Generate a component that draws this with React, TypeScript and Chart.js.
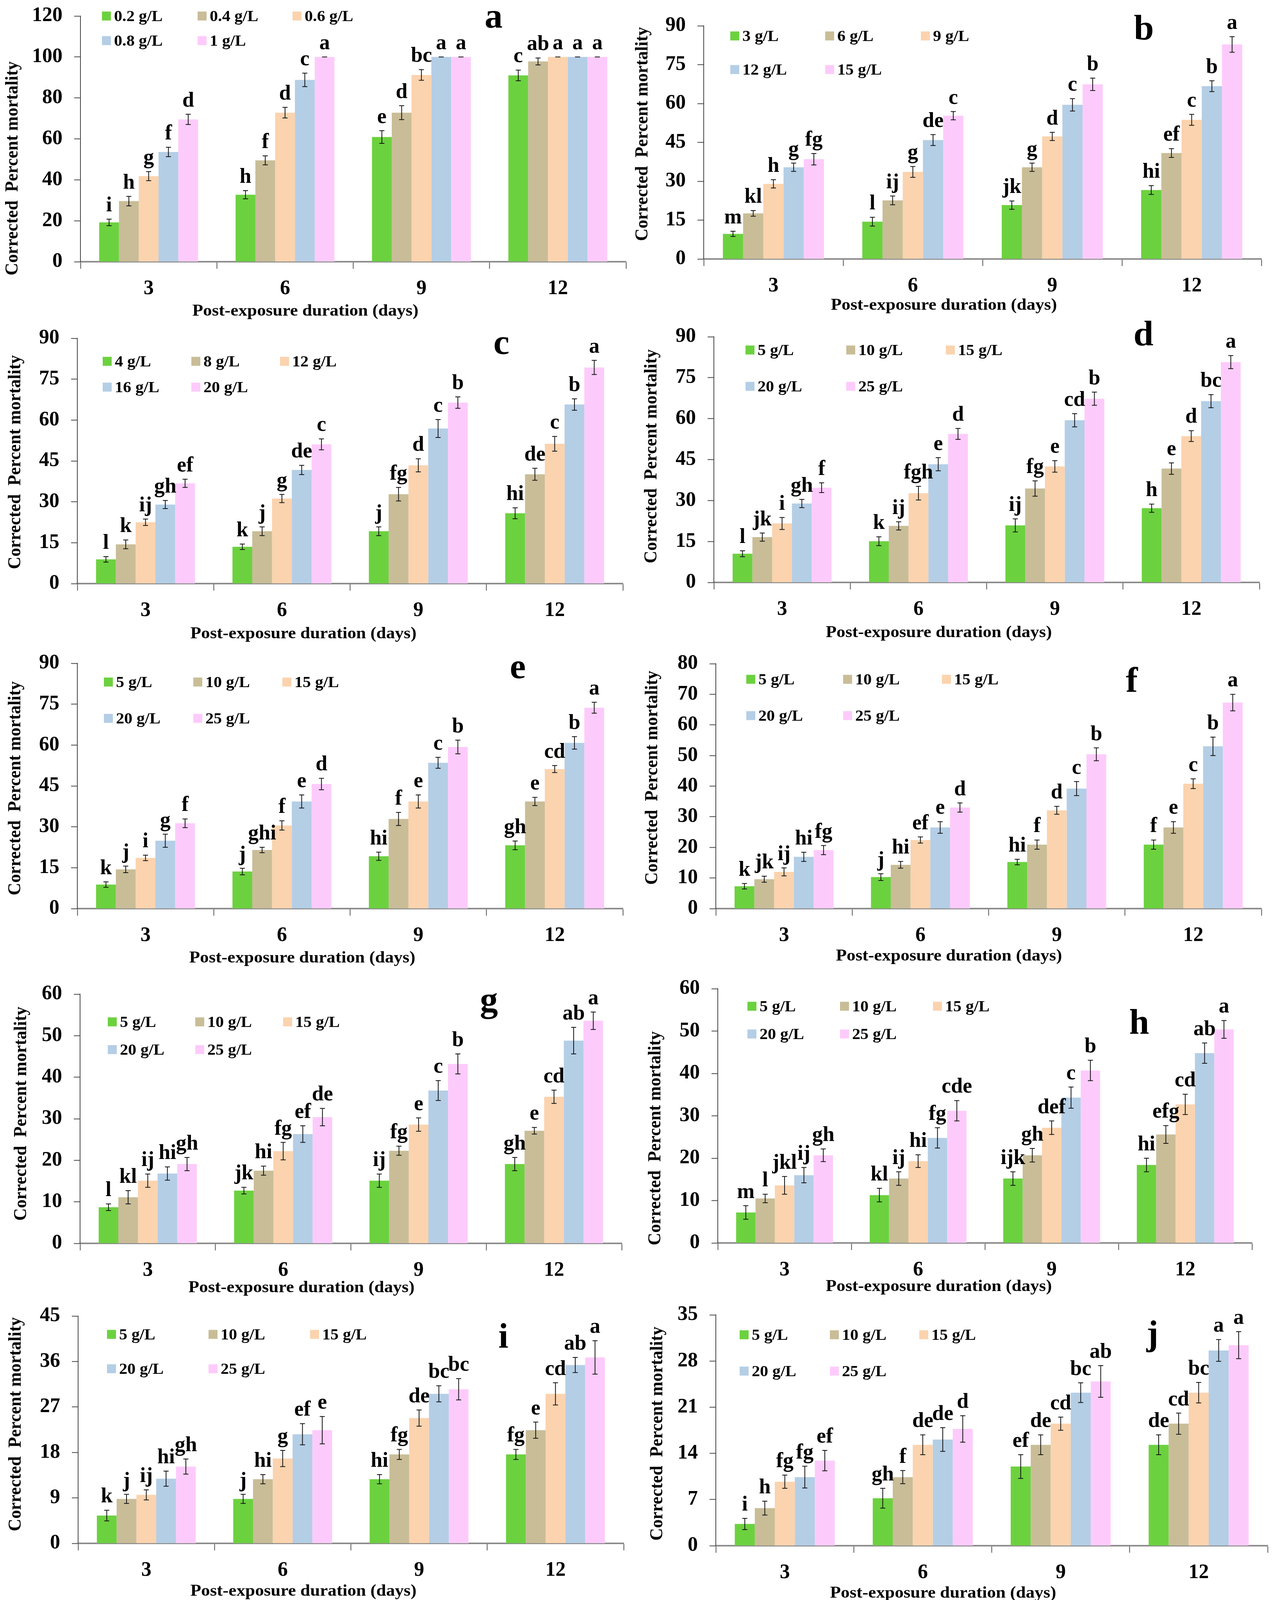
import React, { useEffect, useRef } from "react";
import { Chart, registerables } from "chart.js";
Chart.register(...registerables);

if (typeof document !== "undefined") {
  document.body.style.margin = "0";
}

const FONT = '"Liberation Serif", "Times New Roman", serif';

// ---------- data ----------
const days = ["3", "6", "9", "12"];
const barColors = ["#6CD13F", "#C9BD98", "#FBD3AE", "#B4CEE6", "#FDCBFB"];

const concA = ["0.2 g/L", "0.4 g/L", "0.6 g/L", "0.8 g/L", "1 g/L"];
const concB = ["3 g/L", "6 g/L", "9 g/L", "12 g/L", "15 g/L"];
const concC = ["4 g/L", "8 g/L", "12 g/L", "16 g/L", "20 g/L"];
const concStd = ["5 g/L", "10 g/L", "15 g/L", "20 g/L", "25 g/L"];

// series = concentration, values = days 3, 6, 9, 12
const meanA = [[19.2, 32.7, 60.9, 91.0], [29.6, 49.5, 72.8, 97.8], [41.8, 72.8, 91.2, 100], [53.6, 88.8, 100, 100], [69.5, 100, 100, 100]];
const errA = [[1.6, 2.0, 3.1, 2.6], [2.3, 2.2, 3.4, 1.7], [2.2, 2.6, 2.6, 0], [2.3, 3.3, 0, 0], [2.5, 0, 0, 0]];
const sigA = [["i", "h", "e", "c"], ["h", "f", "d", "ab"], ["g", "d", "bc", "a"], ["f", "c", "a", "a"], ["d", "a", "a", "a"]];

const meanB = [[9.7, 14.4, 20.8, 26.6], [17.6, 22.6, 35.4, 40.9], [29.0, 33.6, 47.3, 53.7], [35.4, 45.9, 59.5, 66.7], [38.5, 55.3, 67.4, 82.8]];
const errB = [[1.0, 1.7, 1.6, 1.7], [1.1, 1.7, 1.6, 1.7], [1.6, 2.1, 1.6, 2.1], [1.6, 2.1, 2.4, 2.1], [2.2, 1.6, 2.4, 3.0]];
const sigB = [["m", "l", "jk", "hi"], ["kl", "ij", "g", "ef"], ["h", "g", "d", "c"], ["g", "de", "c", "b"], ["fg", "c", "b", "a"]];

const meanC = [[8.9, 13.5, 19.2, 25.8], [14.4, 19.2, 32.8, 40.1], [22.5, 31.2, 43.4, 51.3], [29.0, 41.7, 56.9, 65.7], [36.8, 51.1, 66.4, 79.3]];
const errC = [[1.0, 1.0, 1.6, 2.0], [1.6, 1.6, 2.5, 2.2], [1.2, 1.5, 2.4, 2.7], [1.5, 1.7, 3.3, 2.1], [1.5, 2.0, 2.1, 2.6]];
const sigC = [["l", "k", "j", "hi"], ["k", "j", "fg", "de"], ["ij", "g", "d", "c"], ["gh", "de", "c", "b"], ["ef", "c", "b", "a"]];

const meanD = [[10.5, 15.1, 20.9, 27.2], [16.6, 20.7, 34.4, 41.7], [21.6, 32.7, 42.5, 53.6], [28.9, 43.3, 59.4, 66.4], [34.7, 54.4, 67.3, 80.7]];
const errD = [[1.1, 1.6, 2.4, 1.5], [1.5, 1.5, 2.8, 2.1], [2.2, 2.5, 2.1, 2.0], [1.5, 2.4, 2.4, 2.4], [1.8, 2.0, 2.4, 2.4]];
const sigD = [["l", "k", "ij", "h"], ["jk", "ij", "fg", "e"], ["i", "fgh", "e", "d"], ["gh", "e", "cd", "bc"], ["f", "d", "b", "a"]];

const meanE = [[8.8, 13.6, 19.2, 23.2], [14.4, 21.5, 32.9, 39.3], [18.6, 30.5, 39.3, 51.2], [24.9, 39.3, 53.5, 60.8], [31.3, 45.7, 59.3, 73.7]];
const errE = [[1.0, 1.2, 1.5, 1.6], [1.2, 1.0, 2.4, 1.5], [1.0, 1.7, 2.4, 1.3], [2.4, 2.4, 2.0, 2.3], [1.6, 2.1, 2.5, 2.0]];
const sigE = [["k", "j", "hi", "gh"], ["j", "ghi", "f", "e"], ["i", "f", "e", "cd"], ["g", "e", "c", "b"], ["f", "d", "b", "a"]];

const meanF = [[7.3, 10.3, 15.2, 20.9], [9.6, 14.3, 20.9, 26.5], [12.0, 22.4, 32.1, 40.8], [16.9, 26.5, 39.2, 53.0], [19.1, 33.0, 50.4, 67.3]];
const errF = [[0.9, 1.1, 0.9, 1.5], [1.0, 1.1, 1.5, 1.9], [1.3, 1.0, 1.3, 1.6], [1.5, 1.9, 2.3, 3.0], [1.5, 1.5, 2.1, 2.7]];
const sigF = [["k", "j", "hi", "f"], ["jk", "hi", "f", "e"], ["ij", "ef", "d", "c"], ["hi", "e", "c", "b"], ["fg", "d", "b", "a"]];

const meanG = [[8.7, 12.7, 15.1, 19.1], [11.1, 17.5, 22.3, 27.1], [15.1, 22.2, 28.6, 35.3], [16.8, 26.3, 36.8, 48.8], [19.1, 30.4, 43.2, 53.6]];
const errG = [[0.8, 0.8, 1.6, 1.6], [1.6, 1.1, 1.1, 0.8], [1.6, 2.1, 1.6, 1.6], [1.6, 2.0, 2.4, 3.2], [1.6, 2.1, 2.4, 2.1]];
const sigG = [["l", "jk", "ij", "gh"], ["kl", "hi", "fg", "e"], ["ij", "fg", "e", "cd"], ["hi", "ef", "c", "ab"], ["gh", "de", "b", "a"]];

const meanH = [[7.2, 11.3, 15.2, 18.4], [10.5, 15.2, 20.7, 25.6], [13.6, 19.3, 27.2, 32.7], [16.0, 24.8, 34.3, 44.8], [20.7, 31.2, 40.7, 50.4]];
const errH = [[1.6, 1.6, 1.6, 1.6], [1.0, 1.6, 1.6, 2.1], [2.1, 1.5, 1.6, 2.4], [1.8, 2.4, 2.5, 2.4], [1.5, 2.4, 2.4, 2.1]];
const sigH = [["m", "kl", "ijk", "hi"], ["l", "ij", "gh", "efg"], ["jkl", "hi", "def", "cd"], ["ij", "fg", "c", "ab"], ["gh", "cde", "b", "a"]];

const meanI = [[5.5, 8.8, 12.7, 17.6], [8.8, 12.7, 17.6, 22.4], [9.6, 16.8, 24.8, 29.6], [12.8, 21.6, 29.6, 35.3], [15.2, 22.4, 30.5, 36.8]];
const errI = [[1.05, 0.9, 0.9, 1.0], [0.9, 0.9, 1.0, 1.6], [1.0, 1.6, 1.6, 2.2], [1.5, 2.1, 1.6, 1.5], [1.5, 2.7, 2.1, 3.3]];
const sigI = [["k", "j", "hi", "fg"], ["j", "hi", "fg", "e"], ["ij", "g", "de", "cd"], ["hi", "ef", "bc", "ab"], ["gh", "e", "bc", "a"]];

const meanJ = [[3.3, 7.2, 12.0, 15.3], [5.7, 10.4, 15.3, 18.5], [9.7, 15.3, 18.5, 23.2], [10.4, 16.1, 23.2, 29.6], [12.9, 17.7, 24.9, 30.4]];
const errJ = [[0.85, 1.5, 1.8, 1.5], [1.05, 1.0, 1.5, 1.6], [1.0, 1.5, 1.0, 1.55], [1.65, 1.8, 1.5, 1.65], [1.55, 2.0, 2.4, 2.05]];
const sigJ = [["i", "gh", "ef", "de"], ["h", "f", "de", "cd"], ["fg", "de", "cd", "bc"], ["fg", "de", "bc", "a"], ["ef", "d", "ab", "a"]];

const meanK = [[2.5, 7.3, 10.4, 12.0], [4.8, 10.4, 15.3, 17.7], [7.3, 10.4, 16.1, 20.9], [10.4, 15.3, 18.5, 23.3], [12.8, 16.1, 19.2, 24.9]];
const errK = [[0.95, 1.5, 1.0, 1.35], [0.8, 1.0, 1.55, 2.0], [0.85, 1.0, 1.8, 2.3], [1.6, 1.55, 1.0, 1.5], [1.5, 1.8, 1.5, 1.9]];
const sigK = [["i", "gh", "fg", "ef"], ["h", "fg", "de", "cd"], ["gh", "fg", "cde", "abc"], ["fg", "de", "bcd", "ab"], ["ef", "cde", "bcd", "a"]];

const yMaxes = { a: 120, b: 90, c: 90, d: 90, e: 90, f: 80, g: 60, h: 60, i: 45, j: 35, k: 30 };
const ySteps = { a: 20, b: 15, c: 15, d: 15, e: 15, f: 10, g: 10, h: 10, i: 9, j: 7, k: 5 };

const yTitleText = "Corrected  Percent mortality";
const xTitleText = "Post-exposure duration (days)";

// ---------- layout (page pixel coordinates) ----------
type Layout = {
  cols: number[]; area: number[]; legendX: number[]; legendY: number[];
  letter: number[]; yTitle: number[]; xTitle: number[];
};
const LEFT = [0, 1640];
const RIGHT = [1610, 1660];
const layouts: Record<string, Layout> = {
  a: { cols: LEFT, area: [206, 41, 1603, 670], legendX: [261, 506, 749], legendY: [41, 104], letter: [1264, 71], yTitle: [33, 431], xTitle: [782, 797] },
  b: { cols: RIGHT, area: [1802, 66, 3230, 663], legendX: [1870, 2113, 2358], legendY: [92, 178], letter: [2929, 101], yTitle: [1646, 343], xTitle: [2417, 782] },
  c: { cols: LEFT, area: [198, 866, 1595, 1494], legendX: [263, 490, 717], legendY: [925, 991], letter: [1284, 906], yTitle: [40, 1183], xTitle: [777, 1623] },
  d: { cols: RIGHT, area: [1828, 862, 3225, 1491], legendX: [1909, 2167, 2422], legendY: [896, 989], letter: [2928, 884], yTitle: [1669, 1168], xTitle: [2404, 1620] },
  e: { cols: LEFT, area: [198, 1698, 1595, 2326], legendX: [266, 495, 723], legendY: [1746, 1839], letter: [1326, 1736], yTitle: [40, 2018], xTitle: [774, 2453] },
  f: { cols: RIGHT, area: [1833, 1699, 3230, 2326], legendX: [1911, 2159, 2412], legendY: [1739, 1832], letter: [2898, 1771], yTitle: [1671, 1991], xTitle: [2430, 2448] },
  g: { cols: LEFT, area: [205, 2545, 1592, 3183], legendX: [276, 500, 725], legendY: [2616, 2687], letter: [1252, 2590], yTitle: [55, 2851], xTitle: [772, 3297] },
  h: { cols: RIGHT, area: [1838, 2531, 3206, 3182], legendX: [1914, 2151, 2389], legendY: [2576, 2647], letter: [2917, 2646], yTitle: [1679, 2914], xTitle: [2404, 3294] },
  i: { cols: LEFT, area: [200, 3369, 1597, 3951], legendX: [274, 534, 794], legendY: [3416, 3504], letter: [1289, 3450], yTitle: [41, 3646], xTitle: [777, 4074] },
  j: { cols: RIGHT, area: [1833, 3366, 3246, 3957], legendX: [1894, 2125, 2354], legendY: [3417, 3510], letter: [2951, 3443], yTitle: [1684, 3670], xTitle: [2415, 4079] },
  k: { cols: [790, 1680], area: [1059, 4171, 2437, 4761], legendX: [1132, 1384, 1637], legendY: [4220, 4313], letter: [2168, 4245], yTitle: [912, 4473], xTitle: [1642, 4886] },
};

function canvasBox(L: Layout) {
  const x = L.cols[0];
  const w = L.cols[1];
  const y = L.area[1] - 100;
  const h = L.xTitle[1] + 45 - y;
  return [x, y, w, h];
}

const panels = [
  { id: "a", conc: concA, mean: meanA, err: errA, sig: sigA },
  { id: "b", conc: concB, mean: meanB, err: errB, sig: sigB },
  { id: "c", conc: concC, mean: meanC, err: errC, sig: sigC },
  { id: "d", conc: concStd, mean: meanD, err: errD, sig: sigD },
  { id: "e", conc: concStd, mean: meanE, err: errE, sig: sigE },
  { id: "f", conc: concStd, mean: meanF, err: errF, sig: sigF },
  { id: "g", conc: concStd, mean: meanG, err: errG, sig: sigG },
  { id: "h", conc: concStd, mean: meanH, err: errH, sig: sigH },
  { id: "i", conc: concStd, mean: meanI, err: errI, sig: sigI },
  { id: "j", conc: concStd, mean: meanJ, err: errJ, sig: sigJ },
  { id: "k", conc: concStd, mean: meanK, err: errK, sig: sigK },
];

// ---------- drawing helpers ----------
function drawText(ctx: CanvasRenderingContext2D, text: string, x: number, y: number, size: number, sx: number, align: CanvasTextAlign, baseline: CanvasTextBaseline) {
  ctx.save();
  ctx.font = `bold ${size}px ${FONT}`;
  ctx.fillStyle = "#000";
  ctx.textAlign = align;
  ctx.textBaseline = baseline;
  ctx.translate(x, y);
  ctx.scale(sx, 1);
  ctx.fillText(text, 0, 0);
  ctx.restore();
}

function fitScale(ctx: CanvasRenderingContext2D, text: string, size: number, target: number) {
  ctx.save();
  ctx.font = `bold ${size}px ${FONT}`;
  const w = ctx.measureText(text).width;
  ctx.restore();
  return w > 0 ? target / w : 1;
}

function makeDeco(p: any, L: Layout, box: number[]) {
  const ox = box[0];
  const oy = box[1];
  return {
    id: "deco" + p.id,
    afterDatasetsDraw(chart: any) {
      const ctx: CanvasRenderingContext2D = chart.ctx;
      const ys = chart.scales.y;
      p.mean.forEach((series: number[], i: number) => {
        const meta = chart.getDatasetMeta(i);
        series.forEach((v: number, j: number) => {
          const el = meta.data[j];
          if (!el) return;
          const e = p.err[i][j];
          const yt = ys.getPixelForValue(v + e);
          const yb = ys.getPixelForValue(v - e);
          ctx.save();
          ctx.strokeStyle = "#111";
          ctx.lineWidth = 2;
          ctx.beginPath();
          ctx.moveTo(el.x, yt); ctx.lineTo(el.x, yb);
          ctx.moveTo(el.x - 6.5, yt); ctx.lineTo(el.x + 6.5, yt);
          ctx.moveTo(el.x - 6.5, yb); ctx.lineTo(el.x + 6.5, yb);
          ctx.stroke();
          ctx.restore();
          drawText(ctx, p.sig[i][j], el.x, yt - 20, 54, 1.0, "center", "alphabetic");
        });
      });
    },
    afterDraw(chart: any) {
      const ctx: CanvasRenderingContext2D = chart.ctx;
      // legend
      p.conc.forEach((label: string, i: number) => {
        const col = i < 3 ? i : i - 3;
        const row = i < 3 ? 0 : 1;
        const x = L.legendX[col] - ox;
        const y = L.legendY[row] - oy;
        ctx.save();
        ctx.fillStyle = barColors[i];
        ctx.fillRect(x, y - 11.5, 23, 23);
        ctx.restore();
        drawText(ctx, label, x + 31, y + 2, 41, 1.03, "left", "middle");
      });
      // panel letter
      drawText(ctx, p.id, L.letter[0] - ox, L.letter[1] - oy, 92, 1.0, "center", "alphabetic");
      // x title
      const sxX = fitScale(ctx, xTitleText, 43, 579);
      drawText(ctx, xTitleText, L.xTitle[0] - ox, L.xTitle[1] - oy, 43, sxX, "center", "middle");
      // y title (rotated)
      const sxY = fitScale(ctx, yTitleText, 46, 548);
      ctx.save();
      ctx.translate(L.yTitle[0] - ox, L.yTitle[1] - oy);
      ctx.rotate(-Math.PI / 2);
      ctx.scale(sxY, 1);
      ctx.font = `bold 46px ${FONT}`;
      ctx.fillStyle = "#000";
      ctx.textAlign = "center";
      ctx.textBaseline = "middle";
      ctx.fillText(yTitleText, 0, 0);
      ctx.restore();
    },
  };
}

function Panel({ p }: { p: any }) {
  const ref = useRef<HTMLCanvasElement | null>(null);
  const L = layouts[p.id];
  const box = canvasBox(L);
  useEffect(() => {
    if (!ref.current) return;
    const [cx, cy, cw, ch] = box;
    const [l, t, r, b] = L.area;
    const yWidth = l - cx;
    const xHeight = cy + ch - b;
    const chart = new Chart(ref.current, {
      type: "bar",
      data: {
        labels: days,
        datasets: p.conc.map((label: string, i: number) => ({
          label,
          data: p.mean[i],
          backgroundColor: barColors[i],
          borderWidth: 0,
          categoryPercentage: 0.725,
          barPercentage: 1.0,
        })),
      },
      options: {
        animation: false,
        responsive: true,
        maintainAspectRatio: false,
        events: [],
        layout: { padding: { left: 0, top: t - cy, right: cx + cw - r, bottom: 0 } },
        plugins: { legend: { display: false }, tooltip: { enabled: false }, title: { display: false } },
        scales: {
          x: {
            type: "category",
            grid: { display: true, drawOnChartArea: false, drawTicks: true, tickLength: 18, tickColor: "#555", tickWidth: 2, offset: true },
            border: { display: true, color: "#8c8c8c", width: 4 },
            ticks: { color: "#000", padding: 20, font: { family: FONT, size: 52, weight: "bold" }, maxRotation: 0 },
            afterFit: (s: any) => { s.height = xHeight; },
          },
          y: {
            min: 0,
            max: yMaxes[p.id],
            grid: { display: true, drawOnChartArea: false, drawTicks: true, tickLength: 16, tickColor: "#444", tickWidth: 2 },
            border: { display: true, color: "#444", width: 2 },
            ticks: { stepSize: ySteps[p.id], color: "#000", padding: 30, font: { family: FONT, size: 52, weight: "bold" } },
            afterFit: (s: any) => { s.width = yWidth; },
          },
        },
      },
      plugins: [makeDeco(p, L, box)],
    } as any);
    return () => chart.destroy();
  }, []);
  const [cx, cy, cw, ch] = box;
  return (
    <div style={{ position: "absolute", left: cx, top: cy, width: cw, height: ch }}>
      <canvas ref={ref} />
    </div>
  );
}

export default function App() {
  return (
    <div style={{ position: "relative", width: 3270, height: 4924, background: "#fff", overflow: "hidden" }}>
      {panels.map((p) => (
        <Panel key={p.id} p={p} />
      ))}
    </div>
  );
}
